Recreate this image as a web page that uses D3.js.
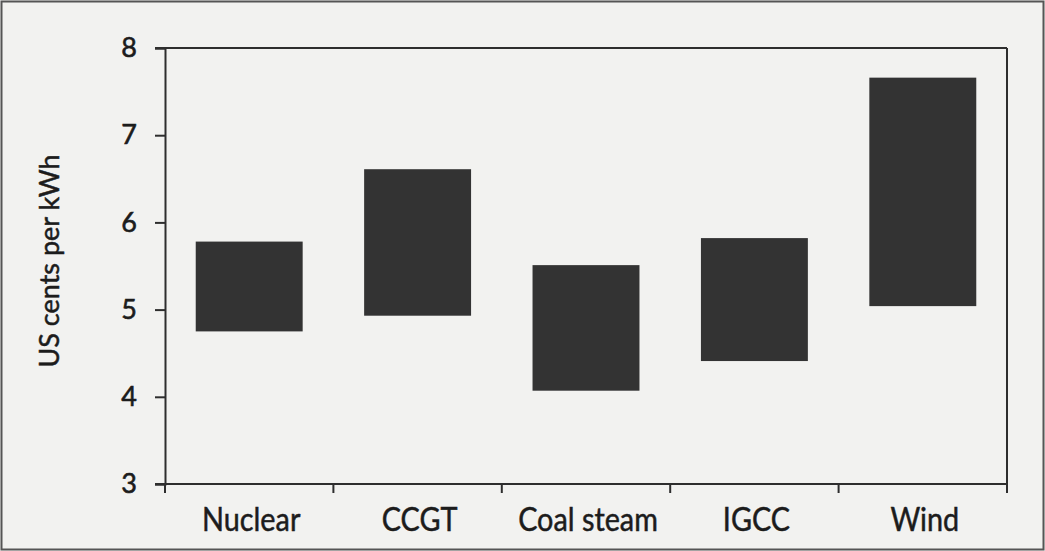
<!DOCTYPE html>
<html>
<head>
<meta charset="utf-8">
<script src="https://cdn.jsdelivr.net/npm/d3@7"></script>
<style>
  body { margin: 0; background: #f2f2f0; }
  svg { display: block; }
</style>
</head>
<body>
<svg id="chart" width="1045" height="551"></svg>
<script>
// categories and the low / high cost of each one
var categories = ["Nuclear", "CCGT", "Coal steam", "IGCC", "Wind"];
var lowValues = [4.75, 4.93, 4.07, 4.41, 5.04];
var highValues = [5.78, 6.61, 5.51, 5.82, 7.66];
var yTicks = [3, 4, 5, 6, 7, 8];

var inkColor = "#2e2e2e";
var barColor = "#333333";
var textColor = "#1c1c1c";
var fontStack = "Lato, 'DejaVu Sans', sans-serif";

var svg = d3.select("#chart");
var width = +svg.attr("width");
var height = +svg.attr("height");

// outer scan border
svg.append("rect")
  .attr("x", 1.5).attr("y", 1.5)
  .attr("width", width - 3).attr("height", height - 3)
  .attr("fill", "#f2f2f0")
  .attr("stroke", "#555").attr("stroke-width", 2);

var plotLeft = 165, plotRight = 1007, plotTop = 48, plotBottom = 484;

var x = d3.scaleBand()
  .domain(categories)
  .range([plotLeft, plotRight])
  .paddingInner(0.365)
  .paddingOuter(0.1825);

var y = d3.scaleLinear().domain([3, 8]).range([plotBottom, plotTop]);

var bars = categories.map(function (c, i) {
  return { name: c, low: lowValues[i], high: highValues[i] };
});

svg.selectAll("rect.bar")
  .data(bars)
  .enter()
  .append("rect")
  .attr("class", "bar")
  .attr("x", function (d) { return x(d.name); })
  .attr("width", x.bandwidth())
  .attr("y", function (d) { return y(d.high); })
  .attr("height", function (d) { return y(d.low) - y(d.high); })
  .attr("fill", barColor);

// frame: top and right lines
svg.append("line")
  .attr("x1", plotLeft - 10).attr("x2", plotRight)
  .attr("y1", plotTop).attr("y2", plotTop)
  .attr("stroke", inkColor).attr("stroke-width", 2);
svg.append("line")
  .attr("x1", plotRight).attr("x2", plotRight)
  .attr("y1", plotTop).attr("y2", plotBottom)
  .attr("stroke", inkColor).attr("stroke-width", 2);

// y axis
var yAxis = d3.axisLeft(y).tickValues(yTicks).tickSize(10).tickPadding(18).tickFormat(d3.format("d"));
var gy = svg.append("g").attr("transform", "translate(" + plotLeft + ",0)").call(yAxis);
gy.select(".domain").attr("stroke", inkColor).attr("stroke-width", 2);
gy.selectAll(".tick line").attr("stroke", inkColor).attr("stroke-width", 2);
gy.selectAll(".tick text")
  .attr("fill", textColor)
  .attr("stroke", textColor)
  .attr("stroke-width", 0.6)
  .style("font-family", fontStack)
  .style("font-size", "27px");

// x axis: ticks at band boundaries
var boundaries = categories.map(function (c) { return x(c) - x.step() * x.paddingInner() / 2; });
boundaries[0] = plotLeft;
boundaries.push(plotRight);

svg.append("line")
  .attr("x1", plotLeft - 10).attr("x2", plotRight)
  .attr("y1", plotBottom).attr("y2", plotBottom)
  .attr("stroke", inkColor).attr("stroke-width", 2);

svg.selectAll("line.xtick")
  .data(boundaries)
  .enter()
  .append("line")
  .attr("class", "xtick")
  .attr("x1", function (d) { return d; })
  .attr("x2", function (d) { return d; })
  .attr("y1", plotBottom)
  .attr("y2", plotBottom + 9)
  .attr("stroke", inkColor).attr("stroke-width", 2);

// category labels, a little narrow like the scan
svg.selectAll("text.xlabel")
  .data(categories)
  .enter()
  .append("text")
  .attr("class", "xlabel")
  .attr("transform", function (d) {
    return "translate(" + (x(d) + x.bandwidth() / 2 + 2) + ",531) scale(0.9,1)";
  })
  .attr("text-anchor", "middle")
  .attr("fill", textColor)
  .attr("stroke", textColor)
  .attr("stroke-width", 0.5)
  .style("font-family", fontStack)
  .style("font-size", "32px")
  .text(function (d) { return d; });

// y axis title
svg.append("text")
  .attr("transform", "translate(59,261) rotate(-90)")
  .attr("text-anchor", "middle")
  .attr("fill", textColor)
  .attr("stroke", textColor)
  .attr("stroke-width", 0.5)
  .style("font-family", fontStack)
  .style("font-size", "27px")
  .text("US cents per kWh");
</script>
</body>
</html>
